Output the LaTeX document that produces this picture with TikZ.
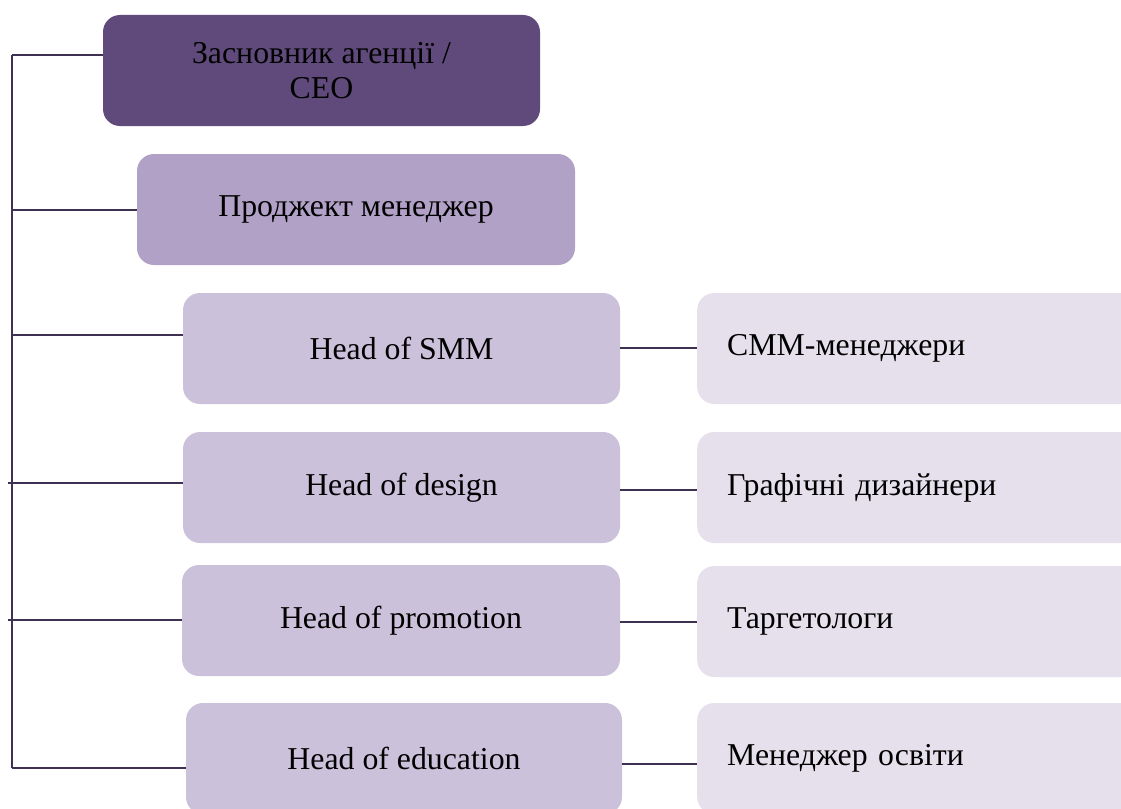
\documentclass[tikz,border=0pt]{standalone}
\usepackage{fontspec}
\setmainfont{Liberation Serif}
\definecolor{ceoc}{HTML}{604A7B}
\definecolor{pmc}{HTML}{B2A1C7}
\definecolor{headc}{HTML}{CCC1DA}
\definecolor{teamc}{HTML}{E5E0EC}
\definecolor{linec}{HTML}{3F3151}
\begin{document}
\begin{tikzpicture}[x=1pt,y=-1pt,
  box/.style={rounded corners=17pt, minimum height=111pt, inner sep=0pt,
    font=\fontsize{31.8}{35}\selectfont, text=black},
  head/.style={box, fill=headc, minimum width=437pt},
  team/.style={box, fill=teamc, anchor=west, minimum width=440pt,
    inner xsep=30pt, text width=380pt, align=left},
  conn/.style={draw=linec, line width=1.6pt}]
\useasboundingbox (0,0) rectangle (1121,808);
\clip (0,0) rectangle (1121,808);
\fill[white] (0,0) rectangle (1121,808);
% left column
\node[box, fill=ceoc, minimum width=437pt, align=center] (ceo) at (321.5,70.5) {Засновник агенції /\\CEO};
\node[box, fill=pmc, minimum width=438pt] (pm) at (356,209.5) {Проджект менеджер};
\node[head] (smm) at (401.5,348.5) {Head of SMM};
\node[head] (des) at (401.5,487.5) {Head of design};
\node[head, minimum width=438pt] (pro) at (401,620.5) {Head of promotion};
\node[head, minimum width=436pt] (edu) at (404,758.5) {Head of education};
% right column
\node[team] (tsmm) at (697,348.5) {СММ-менеджери};
\node[team] (tdes) at (697,487.5) {Графічні дизайнери};
\node[team] (tpro) at (697,621.5) {Таргетологи};
\node[team] (tedu) at (697,758.5) {Менеджер освіти};
% spine
\coordinate (s0) at (12,55);
\coordinate (s1) at (12,210);
\coordinate (s2) at (12,335);
\coordinate (s3) at (8,483);
\coordinate (s4) at (8,620);
\coordinate (s5) at (12,768);
\draw[conn] (s0) -- (s5);
\draw[conn] (s0) -- (s0 -| ceo.west);
\draw[conn] (s1) -- (s1 -| pm.west);
\draw[conn] (s2) -- (s2 -| smm.west);
\draw[conn] (s3) -- (s3 -| des.west);
\draw[conn] (s4) -- (s4 -| pro.west);
\draw[conn] (s5) -- (s5 -| edu.west);
% right connectors
\coordinate (r1) at (620,348);
\coordinate (r2) at (620,490);
\coordinate (r3) at (620,622);
\coordinate (r4) at (622,764);
\draw[conn] (r1) -- (r1 -| tsmm.west);
\draw[conn] (r2) -- (r2 -| tdes.west);
\draw[conn] (r3) -- (r3 -| tpro.west);
\draw[conn] (r4) -- (r4 -| tedu.west);
\end{tikzpicture}
\end{document}
